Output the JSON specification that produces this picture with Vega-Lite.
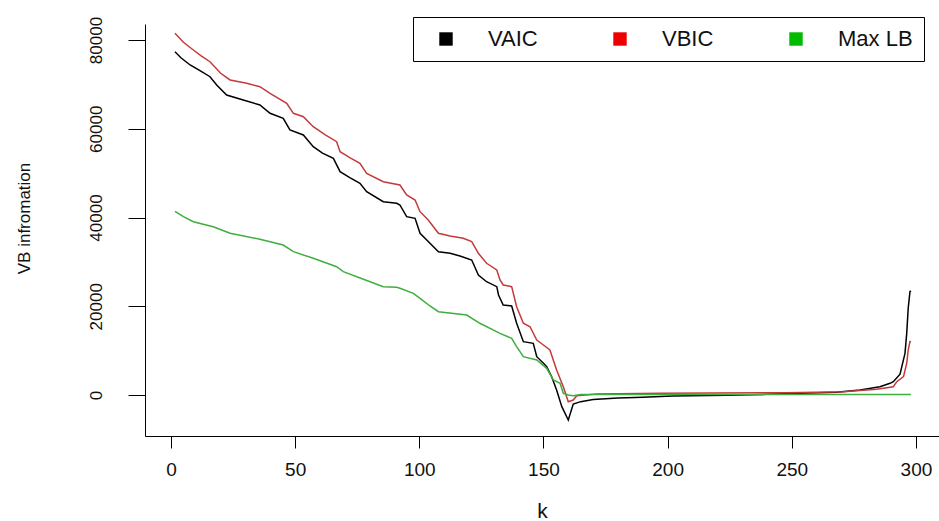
{
  "$schema": "https://vega.github.io/schema/vega-lite/v6.json",
  "width": 794,
  "height": 412,
  "autosize": {"type": "none"},
  "padding": {"left": 145, "top": 24, "right": 0, "bottom": 85},
  "background": "white",
  "config": {"view": {"stroke": null}, "font": "Liberation Sans"},
  "data": {"values": [
    {"k": 1.6, "s": "VAIC", "v": 77370}, {"k": 4, "s": "VAIC", "v": 76000}, {"k": 7.7, "s": "VAIC", "v": 74370}, {"k": 12, "s": "VAIC", "v": 73000}, {"k": 15.7, "s": "VAIC", "v": 71730}, {"k": 18.4, "s": "VAIC", "v": 69860}, {"k": 22.4, "s": "VAIC", "v": 67610}, {"k": 29.1, "s": "VAIC", "v": 66480}, {"k": 35.8, "s": "VAIC", "v": 65350}, {"k": 39.9, "s": "VAIC", "v": 63480}, {"k": 45.2, "s": "VAIC", "v": 62350}, {"k": 47.9, "s": "VAIC", "v": 59720}, {"k": 53.3, "s": "VAIC", "v": 58590}, {"k": 57.3, "s": "VAIC", "v": 55960}, {"k": 61, "s": "VAIC", "v": 54500}, {"k": 65.4, "s": "VAIC", "v": 53340}, {"k": 68.1, "s": "VAIC", "v": 50330}, {"k": 72, "s": "VAIC", "v": 49000}, {"k": 76.1, "s": "VAIC", "v": 47710}, {"k": 78.8, "s": "VAIC", "v": 45820}, {"k": 85.5, "s": "VAIC", "v": 43570}, {"k": 90.9, "s": "VAIC", "v": 43190}, {"k": 92.2, "s": "VAIC", "v": 42820}, {"k": 94.9, "s": "VAIC", "v": 40190}, {"k": 98.3, "s": "VAIC", "v": 39820}, {"k": 100.3, "s": "VAIC", "v": 36440}, {"k": 103.0, "s": "VAIC", "v": 34930}, {"k": 107.7, "s": "VAIC", "v": 32300}, {"k": 112.4, "s": "VAIC", "v": 31930}, {"k": 116.4, "s": "VAIC", "v": 31320}, {"k": 121.1, "s": "VAIC", "v": 30420}, {"k": 123.8, "s": "VAIC", "v": 27040}, {"k": 127.1, "s": "VAIC", "v": 25530}, {"k": 131.2, "s": "VAIC", "v": 24410}, {"k": 131.9, "s": "VAIC", "v": 22540}, {"k": 133.8, "s": "VAIC", "v": 20280}, {"k": 137.2, "s": "VAIC", "v": 20060}, {"k": 139.2, "s": "VAIC", "v": 16160}, {"k": 141.9, "s": "VAIC", "v": 12020}, {"k": 145.9, "s": "VAIC", "v": 11650}, {"k": 147.3, "s": "VAIC", "v": 8640}, {"k": 150.0, "s": "VAIC", "v": 7140}, {"k": 151.3, "s": "VAIC", "v": 6380}, {"k": 153.3, "s": "VAIC", "v": 4130}, {"k": 155.3, "s": "VAIC", "v": 1130}, {"k": 157.4, "s": "VAIC", "v": -2630}, {"k": 160.0, "s": "VAIC", "v": -5630}, {"k": 162.0, "s": "VAIC", "v": -2030}, {"k": 165, "s": "VAIC", "v": -1500}, {"k": 170, "s": "VAIC", "v": -1000}, {"k": 180, "s": "VAIC", "v": -700}, {"k": 190, "s": "VAIC", "v": -500}, {"k": 202, "s": "VAIC", "v": -250}, {"k": 224, "s": "VAIC", "v": -80}, {"k": 240, "s": "VAIC", "v": 150}, {"k": 250, "s": "VAIC", "v": 350}, {"k": 268, "s": "VAIC", "v": 600}, {"k": 277.5, "s": "VAIC", "v": 1130}, {"k": 285.5, "s": "VAIC", "v": 1880}, {"k": 289.6, "s": "VAIC", "v": 2630}, {"k": 290.9, "s": "VAIC", "v": 3000}, {"k": 293.6, "s": "VAIC", "v": 4700}, {"k": 295.6, "s": "VAIC", "v": 9390}, {"k": 296.3, "s": "VAIC", "v": 13900}, {"k": 296.9, "s": "VAIC", "v": 19540}, {"k": 297.6, "s": "VAIC", "v": 23280}, {"k": 298, "s": "VAIC", "v": 23500},
    {"k": 1.6, "s": "VBIC", "v": 81510}, {"k": 5, "s": "VBIC", "v": 79500}, {"k": 9.0, "s": "VBIC", "v": 77750}, {"k": 12, "s": "VBIC", "v": 76500}, {"k": 15.7, "s": "VBIC", "v": 75110}, {"k": 20, "s": "VBIC", "v": 72500}, {"k": 23.8, "s": "VBIC", "v": 70990}, {"k": 30.5, "s": "VBIC", "v": 70240}, {"k": 35.8, "s": "VBIC", "v": 69480}, {"k": 39.9, "s": "VBIC", "v": 67990}, {"k": 46.6, "s": "VBIC", "v": 65740}, {"k": 49.3, "s": "VBIC", "v": 63480}, {"k": 53.3, "s": "VBIC", "v": 62720}, {"k": 57.3, "s": "VBIC", "v": 60470}, {"k": 62, "s": "VBIC", "v": 58700}, {"k": 66.7, "s": "VBIC", "v": 57080}, {"k": 68.1, "s": "VBIC", "v": 54830}, {"k": 72, "s": "VBIC", "v": 53500}, {"k": 76.1, "s": "VBIC", "v": 52210}, {"k": 78.8, "s": "VBIC", "v": 49960}, {"k": 85.5, "s": "VBIC", "v": 48070}, {"k": 92.2, "s": "VBIC", "v": 47320}, {"k": 94.9, "s": "VBIC", "v": 45070}, {"k": 98.3, "s": "VBIC", "v": 43940}, {"k": 100.3, "s": "VBIC", "v": 41310}, {"k": 103.6, "s": "VBIC", "v": 39440}, {"k": 107.7, "s": "VBIC", "v": 36440}, {"k": 112.4, "s": "VBIC", "v": 35830}, {"k": 117.7, "s": "VBIC", "v": 35310}, {"k": 121.1, "s": "VBIC", "v": 34560}, {"k": 123.8, "s": "VBIC", "v": 31930}, {"k": 127.1, "s": "VBIC", "v": 29680}, {"k": 131.2, "s": "VBIC", "v": 28170}, {"k": 132.5, "s": "VBIC", "v": 25920}, {"k": 133.8, "s": "VBIC", "v": 24790}, {"k": 137.2, "s": "VBIC", "v": 24410}, {"k": 139.2, "s": "VBIC", "v": 19900}, {"k": 141.9, "s": "VBIC", "v": 16160}, {"k": 144.6, "s": "VBIC", "v": 15390}, {"k": 147.3, "s": "VBIC", "v": 12390}, {"k": 150.0, "s": "VBIC", "v": 11270}, {"k": 152.6, "s": "VBIC", "v": 10140}, {"k": 155.3, "s": "VBIC", "v": 5630}, {"k": 158.0, "s": "VBIC", "v": 1870}, {"k": 160.0, "s": "VBIC", "v": -1510}, {"k": 162.0, "s": "VBIC", "v": -1130}, {"k": 163.4, "s": "VBIC", "v": -150}, {"k": 171.5, "s": "VBIC", "v": 225}, {"k": 197, "s": "VBIC", "v": 380}, {"k": 248, "s": "VBIC", "v": 530}, {"k": 270.8, "s": "VBIC", "v": 750}, {"k": 284.2, "s": "VBIC", "v": 1280}, {"k": 290.9, "s": "VBIC", "v": 1870}, {"k": 292.3, "s": "VBIC", "v": 3000}, {"k": 295, "s": "VBIC", "v": 4130}, {"k": 296.3, "s": "VBIC", "v": 7140}, {"k": 296.9, "s": "VBIC", "v": 10140}, {"k": 297.6, "s": "VBIC", "v": 12020}, {"k": 298, "s": "VBIC", "v": 12000},
    {"k": 1.6, "s": "Max LB", "v": 41400}, {"k": 5, "s": "Max LB", "v": 40200}, {"k": 9.0, "s": "Max LB", "v": 39060}, {"k": 17.0, "s": "Max LB", "v": 37930}, {"k": 23.8, "s": "Max LB", "v": 36440}, {"k": 35.8, "s": "Max LB", "v": 35090}, {"k": 45.2, "s": "Max LB", "v": 33800}, {"k": 49.3, "s": "Max LB", "v": 32300}, {"k": 57.3, "s": "Max LB", "v": 30800}, {"k": 66.7, "s": "Max LB", "v": 28920}, {"k": 69.4, "s": "Max LB", "v": 27790}, {"k": 77.5, "s": "Max LB", "v": 26070}, {"k": 85.5, "s": "Max LB", "v": 24410}, {"k": 90.9, "s": "Max LB", "v": 24260}, {"k": 92.2, "s": "Max LB", "v": 24040}, {"k": 97.6, "s": "Max LB", "v": 22910}, {"k": 100.3, "s": "Max LB", "v": 21790}, {"k": 104.3, "s": "Max LB", "v": 20060}, {"k": 107.7, "s": "Max LB", "v": 18770}, {"k": 119.1, "s": "Max LB", "v": 18030}, {"k": 124.4, "s": "Max LB", "v": 16160}, {"k": 132.5, "s": "Max LB", "v": 13900}, {"k": 137.2, "s": "Max LB", "v": 12770}, {"k": 139.2, "s": "Max LB", "v": 10890}, {"k": 141.9, "s": "Max LB", "v": 8640}, {"k": 147.3, "s": "Max LB", "v": 7890}, {"k": 151.3, "s": "Max LB", "v": 6010}, {"k": 154, "s": "Max LB", "v": 3380}, {"k": 156.7, "s": "Max LB", "v": 2630}, {"k": 158, "s": "Max LB", "v": 380}, {"k": 160, "s": "Max LB", "v": 0}, {"k": 162, "s": "Max LB", "v": -150}, {"k": 165, "s": "Max LB", "v": 100}, {"k": 298, "s": "Max LB", "v": 100}
  ]},
  "mark": {"type": "line", "strokeWidth": 1.5, "clip": true},
  "encoding": {
    "x": {
      "field": "k", "type": "quantitative",
      "scale": {"domain": [-10.47, 309.3], "nice": false, "zero": false},
      "axis": {
        "title": "k", "values": [0, 50, 100, 150, 200, 250, 300], "grid": false,
        "domainColor": "#000", "tickColor": "#000", "tickSize": 12,
        "labelFontSize": 19, "labelPadding": 21, "labelBaseline": "middle", "labelColor": "#111", "labelFlush": false,
        "titleFontSize": 21, "titleFontWeight": "normal", "titleColor": "#111",
        "titleX": 397, "titleY": 75, "titleBaseline": "middle", "titleAlign": "center"
      }
    },
    "y": {
      "field": "v", "type": "quantitative",
      "scale": {"domain": [-9239, 83606], "nice": false, "zero": false},
      "axis": {
        "title": "VB infromation", "values": [0, 20000, 40000, 60000, 80000], "format": "d", "grid": false,
        "domainColor": "#000", "tickColor": "#000", "tickSize": 17,
        "labelAngle": -90, "labelAlign": "center", "labelBaseline": "middle", "labelPadding": 32,
        "labelFontSize": 17, "labelColor": "#111",
        "titleFontSize": 17, "titleFontWeight": "normal", "titleColor": "#111",
        "titleX": -121, "titleY": 194, "titleAngle": -90, "titleBaseline": "middle", "titleAlign": "center"
      }
    },
    "color": {
      "field": "s", "type": "nominal",
      "scale": {"domain": ["VAIC", "VBIC", "Max LB"], "range": ["#000000", "#c43a3a", "#3fae3f"]},
      "legend": {
        "orient": "none", "legendX": 268, "legendY": -7,
        "direction": "horizontal", "columns": 3, "title": null,
        "symbolType": "square", "symbolSize": 180, "symbolStrokeWidth": 0,
        "symbolOffset": 11,
        "labelFontSize": 22, "labelColor": "#111", "labelOffset": 31,
        "columnPadding": 60, "padding": 11,
        "strokeColor": "#000", "fillColor": "white",
        "encode": {"symbols": {"update": {
          "fill": {"signal": "datum.value === 'VAIC' ? '#000000' : datum.value === 'VBIC' ? '#ee0000' : '#00bb00'"},
          "stroke": {"signal": "datum.value === 'VAIC' ? '#000000' : datum.value === 'VBIC' ? '#ee0000' : '#00bb00'"},
          "opacity": {"value": 1}
        }}}
      }
    }
  }
}
